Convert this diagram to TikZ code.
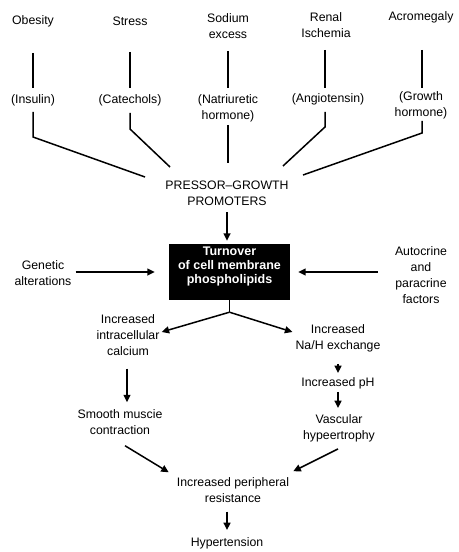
\documentclass[tikz,border=0pt]{standalone}
\usepackage{fontspec}
\setmainfont{Liberation Sans}
\usetikzlibrary{arrows.meta}
\tikzset{
  termnode/.style={align=center,inner sep=1bp,font=\fontsize{12.3bp}{16bp}\selectfont},
  cellbox/.style={fill=black,text=white,inner xsep=0pt,inner ysep=2bp,
    minimum width=121bp,font=\fontsize{12.5bp}{14bp}\selectfont\bfseries},
  flowline/.style={line width=1.5bp,draw=black},
  flowarrow/.style={flowline,-{Triangle[length=7.5bp,width=7bp]}}
}

\begin{document}
\begin{tikzpicture}[x=1bp,y=-1bp]
  \useasboundingbox (0,0) rectangle (459,552);
  % causes and their mediators
  \node[termnode] (obesity) at (33,21) {Obesity};
  \node[termnode] (stress) at (130,21) {Stress};
  \node[termnode] (sodium) at (228,26) {Sodium\\excess};
  \node[termnode] (renal) at (326,25) {Renal\\Ischemia};
  \node[termnode] (acro) at (421,17) {Acromegaly};
  \node[termnode] (insulin) at (33,100) {(Insulin)};
  \node[termnode] (catechols) at (130,100) {(Catechols)};
  \node[termnode] (natri) at (228,108) {(Natriuretic\\hormone)};
  \node[termnode] (angio) at (328,99) {(Angiotensin)};
  \node[termnode] (growth) at (421,105) {(Growth\\hormone)};
  \node[termnode] (pressor) at (227,193.5) {PRESSOR--GROWTH\\PROMOTERS};

  \draw[flowline,shorten <=32bp,shorten >=12bp] (obesity.center) -- (insulin.center);
  \draw[flowline,shorten <=31bp,shorten >=12bp] (stress.center) -- (catechols.center);
  \draw[flowline,shorten <=25bp,shorten >=20bp] (sodium.center) -- (natri.center);
  \draw[flowline,shorten <=25bp,shorten >=11bp] ([shift={(-1,0)}]renal.center) -- ([shift={(-1,0)}]renal.center |- angio.center);
  \draw[flowline,shorten <=33bp,shorten >=17bp] ([shift={(1,0)}]acro.center) -- ([shift={(1,0)}]acro.center |- growth.center);

  \draw[flowline] (insulin.center) ++(0,12) -- ++(0,25) -- ([shift={(-82,-16.5)}]pressor.center);
  \draw[flowline] (catechols.center) ++(0,13) -- ++(0,16) -- ([shift={(-57,-26.5)}]pressor.center);
  \draw[flowline,shorten <=17bp,shorten >=30.5bp] (natri.center) -- (natri.center |- pressor.center);
  \draw[flowline] (angio.center) ++(-3,13) -- ++(0,15) -- ([shift={(56,-27.5)}]pressor.center);
  \draw[flowline] (growth.center) ++(1,16) -- ++(0,12) -- ([shift={(76,-18.5)}]pressor.center);

  % central box
  \node[cellbox] (turnover) at (229.5,272)
    {\begin{tabular}{@{}c@{}}Turnover\\of cell membrane\\phospholipids\\[10bp]\end{tabular}};
  \node[termnode] (genetic) at (43,273) {Genetic\\alterations};
  \node[termnode] (autocrine) at (421,275) {Autocrine\\and\\paracrine\\factors};

  \draw[flowarrow,shorten <=5bp,shorten >=3bp] (pressor.south) -- (pressor.south |- turnover.north);
  \draw[flowarrow,shorten <=3bp,shorten >=14bp] (genetic.east |- turnover.west) -- (turnover.west);
  \draw[flowarrow,shorten <=16bp,shorten >=8bp] (autocrine.west |- turnover.east) -- (turnover.east);

  % two branches
  \node[termnode] (calcium) at (128,335) {Increased\\intracellular\\calcium};
  \node[termnode] (smooth) at (120,422) {Smooth muscie\\contraction};
  \node[termnode] (na) at (338,338) {Increased\\Na/H exchange};
  \node[termnode] (ph) at (338,383) {Increased pH};
  \node[termnode] (vascular) at (339,428) {Vascular\\hypeertrophy};
  \node[termnode] (resistance) at (233,490) {Increased peripheral\\resistance};
  \node[termnode] (hyper) at (227,543) {Hypertension};

  \draw[flowline] (turnover.south) -- ++(0,12) coordinate (fork);
  \draw[flowarrow] (fork) -- ([shift={(1,-3)}]calcium.east);
  \draw[flowarrow] (fork) -- ([shift={(-2,-6)}]na.west);
  \draw[flowarrow,shorten <=12bp,shorten >=6bp] ([shift={(-1,0)}]calcium.south) -- ([shift={(-1,0)}]calcium.south |- smooth.north);
  \draw[flowarrow,shorten <=11bp,shorten >=3bp] (na.south) -- (ph.north);
  \draw[flowarrow,shorten <=2bp,shorten >=5bp] (ph.south) -- (vascular.north -| ph.south);
  \draw[flowarrow] ([shift={(5,10)}]smooth.south) -- ([shift={(-7,-4)}]resistance.north west);
  \draw[flowarrow] ([shift={(-1,6)}]vascular.south) -- ([shift={(3,-5)}]resistance.north east);
  \draw[flowarrow,shorten <=8bp,shorten >=6bp] (hyper.north |- resistance.south) -- (hyper.north);
\end{tikzpicture}
\end{document}
